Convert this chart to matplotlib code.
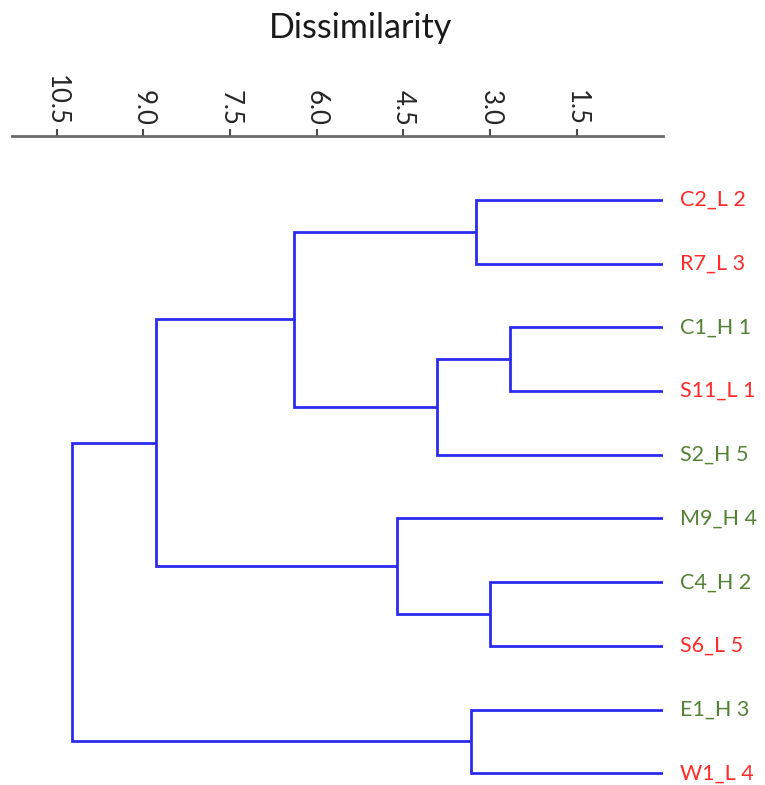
import matplotlib
matplotlib.use("Agg")
import matplotlib.pyplot as plt
import matplotlib.transforms as mtransforms

# ---- data ----
leaf_labels = ["C2_L 2", "R7_L 3", "C1_H 1", "S11_L 1", "S2_H 5",
               "M9_H 4", "C4_H 2", "S6_L 5", "E1_H 3", "W1_L 4"]
leaf_groups = ["L", "L", "H", "L", "H", "H", "H", "L", "H", "L"]
# merges: (child_a, child_b, height); leaves are 0..9, new nodes 10, 11, ...
merge_a = [2, 6, 0, 8, 10, 5, 12, 16, 17]
merge_b = [3, 7, 1, 9, 4, 11, 14, 15, 13]
merge_height = [2.65, 3.00, 3.24, 3.32, 3.92, 4.61, 6.39, 8.78, 10.23]
tick_values = [10.5, 9.0, 7.5, 6.0, 4.5, 3.0, 1.5]
tick_labels = ["10.5", "9.0", "7.5", "6.0", "4.5", "3.0", "1.5"]

group_colors = {"L": "#FF2A2A", "H": "#548235"}
line_color = "#2B2BF0"

W, H = 765, 785
fig = plt.figure(figsize=(W / 100, H / 100), dpi=100)
left_px, right_px, top_px, bot_px = 12, 663.3, 136, 785
ax = fig.add_axes([left_px / W, 1 - bot_px / H, (right_px - left_px) / W, (bot_px - top_px) / H])

px_per_unit_x = 57.78
ax.set_xlim((right_px - left_px) / px_per_unit_x, 0)
row_px = 63.7
y0_px = 200
ax.set_ylim(9 + (bot_px - 773.3) / row_px, -(y0_px - top_px) / row_px)

# compute node positions
n = len(leaf_labels)
ypos = {i: float(i) for i in range(n)}
xpos = {i: 0.0 for i in range(n)}
for k, (a, b, h) in enumerate(zip(merge_a, merge_b, merge_height)):
    node = n + k
    ax.plot([xpos[a], h, h, xpos[b]], [ypos[a], ypos[a], ypos[b], ypos[b]],
            color=line_color, lw=2.0, solid_capstyle="butt", solid_joinstyle="miter")
    xpos[node] = h
    ypos[node] = (ypos[a] + ypos[b]) / 2

# leaf labels
trans = mtransforms.offset_copy(ax.transData, fig=fig, x=17, y=0, units="dots")
for i, (lab, g) in enumerate(zip(leaf_labels, leaf_groups)):
    ax.text(0, i, lab, transform=trans, ha="left", va="center",
            fontsize=15.5, color=group_colors[g], family="Lato", clip_on=False)

# axis styling
for s in ["left", "right", "bottom"]:
    ax.spines[s].set_visible(False)
ax.spines["top"].set_color("#6A6A6A")
ax.spines["top"].set_linewidth(2)
ax.xaxis.tick_top()
ax.set_xticks(tick_values)
ax.set_xticklabels(tick_labels, rotation=270, fontsize=18.5, family="Lato", color="#262626")
ax.tick_params(axis="x", direction="out", length=5, width=1.5, color="#4A4A4A", pad=2)
ax.set_yticks([])
ax.patch.set_alpha(0)

fig.text(360 / W, 1 - 28 / H, "Dissimilarity", ha="center", va="center",
         fontsize=24.5, family="Lato", color="#1A1A1A")

fig.savefig("out.png", dpi=100)
